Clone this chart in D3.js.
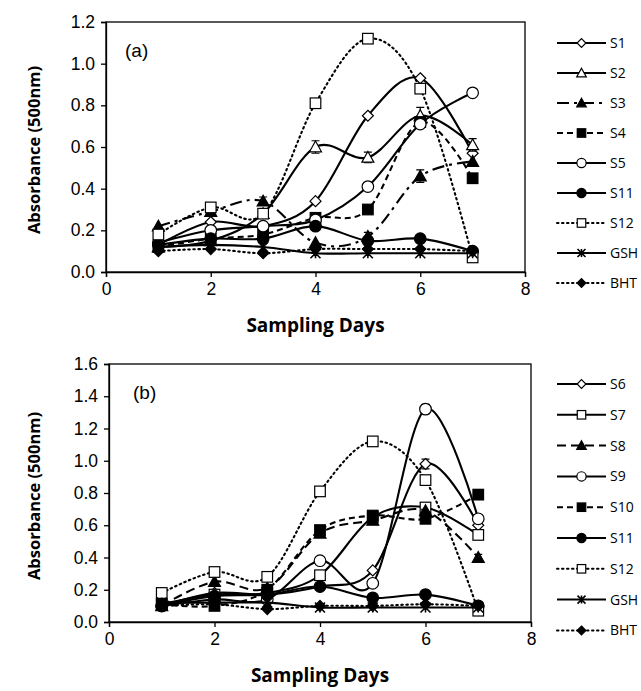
<!DOCTYPE html>
<html>
<head>
<meta charset="utf-8">
<script src="https://cdn.jsdelivr.net/npm/d3@7"></script>
<style>
  body { margin: 0; background: #fff; }
  svg { display: block; }
</style>
</head>
<body>
<svg id="chart" width="641" height="691"></svg>
<script>

// sampling days and tick labels
var days = [1, 2, 3, 4, 5, 6, 7];
var xTicks = [0, 2, 4, 6, 8];
var yTicksA = [0, 0.2, 0.4, 0.6, 0.8, 1.0, 1.2];
var yTicksB = [0, 0.2, 0.4, 0.6, 0.8, 1.0, 1.2, 1.4, 1.6];

// panel (a) series
var namesA = ['S1', 'S2', 'S3', 'S4', 'S5', 'S11', 'S12', 'GSH', 'BHT'];
var s1  = [0.13, 0.24, 0.22, 0.34, 0.75, 0.93, 0.57];
var s2  = [0.12, 0.15, 0.28, 0.60, 0.55, 0.75, 0.61];
var s3  = [0.22, 0.29, 0.34, 0.14, 0.17, 0.46, 0.53];
var s4  = [0.12, 0.16, 0.18, 0.26, 0.30, 0.72, 0.45];
var s5  = [0.14, 0.20, 0.22, 0.25, 0.41, 0.71, 0.86];
var s11 = [0.13, 0.16, 0.16, 0.22, 0.15, 0.16, 0.10];
var s12 = [0.18, 0.31, 0.28, 0.81, 1.12, 0.88, 0.07];
var gsh = [0.12, 0.13, 0.12, 0.09, 0.09, 0.09, 0.09];
var bht = [0.10, 0.11, 0.09, 0.11, 0.11, 0.11, 0.10];

// panel (b) series
var namesB = ['S6', 'S7', 'S8', 'S9', 'S10', 'S11', 'S12', 'GSH', 'BHT'];
var s6  = [0.10, 0.18, 0.17, 0.22, 0.32, 0.98, 0.60];
var s7  = [0.11, 0.17, 0.18, 0.29, 0.65, 0.71, 0.54];
var s8  = [0.10, 0.25, 0.21, 0.55, 0.63, 0.69, 0.40];
var s9  = [0.10, 0.14, 0.14, 0.38, 0.24, 1.32, 0.64];
var s10 = [0.11, 0.10, 0.20, 0.57, 0.66, 0.64, 0.79];
var s11b = [0.10, 0.16, 0.17, 0.22, 0.15, 0.17, 0.10];
var s12b = [0.18, 0.31, 0.28, 0.81, 1.12, 0.88, 0.07];
var gshB = [0.12, 0.12, 0.12, 0.09, 0.09, 0.09, 0.09];
var bhtB = [0.10, 0.11, 0.08, 0.10, 0.10, 0.11, 0.10];

// error bars (only where visible)
var errS2 = [0, 0, 0, 0.03, 0.025, 0.04, 0.03];
var errS3 = [0, 0, 0.02, 0, 0.02, 0.03, 0];
var errS9 = [0, 0, 0, 0, 0, 0.03, 0];
var errS6 = [0, 0, 0, 0, 0, 0.03, 0];
var errS10 = [0, 0, 0, 0, 0, 0, 0.03];
var errS8 = [0, 0, 0, 0, 0, 0, 0.02];

var svg = d3.select('#chart');

// marker / dash style per series
var DOT = '1.5,3.5', DASH = '6,4', DASHDOT = '12,5,3,5';
var stylesA = [
  {m: 'diamond', fill: '#fff', dash: null},
  {m: 'triangle', fill: '#fff', dash: null},
  {m: 'triangle', fill: '#000', dash: DASHDOT},
  {m: 'square', fill: '#000', dash: DASH},
  {m: 'circle', fill: '#fff', dash: null},
  {m: 'circle', fill: '#000', dash: null},
  {m: 'square', fill: '#fff', dash: DOT},
  {m: 'star', fill: '#000', dash: null},
  {m: 'diamond', fill: '#000', dash: DOT}
];
var stylesB = [
  {m: 'diamond', fill: '#fff', dash: null},
  {m: 'square', fill: '#fff', dash: null},
  {m: 'triangle', fill: '#000', dash: '9,5'},
  {m: 'circle', fill: '#fff', dash: null},
  {m: 'square', fill: '#000', dash: DASH},
  {m: 'circle', fill: '#000', dash: null},
  {m: 'square', fill: '#fff', dash: DOT},
  {m: 'star', fill: '#000', dash: null},
  {m: 'diamond', fill: '#000', dash: DOT}
];

function drawMarker(g, type, fill, x, y, s) {
  s = s || 1;
  if (type == 'diamond') {
    var r = 5.5 * s;
    g.append('path').attr('d', 'M' + x + ',' + (y - r) + 'L' + (x + r) + ',' + y + 'L' + x + ',' + (y + r) + 'L' + (x - r) + ',' + y + 'Z')
      .attr('fill', fill).attr('stroke', '#000').attr('stroke-width', 1.2);
  } else if (type == 'square') {
    var h = 5.3 * s;
    g.append('rect').attr('x', x - h).attr('y', y - h).attr('width', 2 * h).attr('height', 2 * h)
      .attr('fill', fill).attr('stroke', '#000').attr('stroke-width', 1.2);
  } else if (type == 'triangle') {
    var t = 6 * s;
    g.append('path').attr('d', 'M' + x + ',' + (y - t) + 'L' + (x + t) + ',' + (y + t * 0.8) + 'L' + (x - t) + ',' + (y + t * 0.8) + 'Z')
      .attr('fill', fill).attr('stroke', '#000').attr('stroke-width', 1.2);
  } else if (type == 'circle') {
    g.append('circle').attr('cx', x).attr('cy', y).attr('r', 5.8 * s)
      .attr('fill', fill).attr('stroke', '#000').attr('stroke-width', 1.2);
  } else if (type == 'star') {
    var k = 5 * s;
    g.append('path').attr('d', 'M' + (x - k) + ',' + (y - k) + 'L' + (x + k) + ',' + (y + k) +
        'M' + (x + k) + ',' + (y - k) + 'L' + (x - k) + ',' + (y + k) +
        'M' + x + ',' + (y - k) + 'L' + x + ',' + (y + k))
      .attr('stroke', '#000').attr('stroke-width', 1.6).attr('fill', 'none');
  }
}

function drawPanel(p) {
  var x = d3.scaleLinear().domain([0, 8]).range([p.left, p.right]);
  var y = d3.scaleLinear().domain([0, p.ymax]).range([p.bottom, p.top]);
  var g = svg.append('g');

  // plot frame
  g.append('rect').attr('x', p.left).attr('y', p.top)
    .attr('width', p.right - p.left).attr('height', p.bottom - p.top)
    .attr('fill', 'none').attr('stroke', '#000').attr('stroke-width', 1.3);

  // axes
  var xAxis = g.append('g').attr('transform', 'translate(0,' + p.bottom + ')')
    .call(d3.axisBottom(x).tickValues(xTicks).tickFormat(d3.format('d')).tickSize(5).tickPadding(6));
  var yAxis = g.append('g').attr('transform', 'translate(' + p.left + ',0)')
    .call(d3.axisLeft(y).tickValues(p.yTicks).tickFormat(d3.format('.1f')).tickSize(5).tickPadding(6));
  [xAxis, yAxis].forEach(function(a) {
    a.select('.domain').attr('stroke-width', 1.3);
    a.selectAll('.tick line').attr('stroke-width', 1.3);
    a.selectAll('text').attr('font-family', '"Liberation Sans", Arial, sans-serif')
      .attr('font-size', 17.5).attr('fill', '#000');
  });

  // titles
  g.append('text').attr('x', (p.left + p.right) / 2).attr('y', p.bottom + 60)
    .attr('text-anchor', 'middle').attr('font-family', '"Open Sans", sans-serif')
    .attr('font-weight', 'bold').attr('font-size', 19).text('Sampling Days');
  g.append('text')
    .attr('transform', 'translate(40,' + ((p.top + p.bottom) / 2 + 3) + ') rotate(-90)')
    .attr('text-anchor', 'middle').attr('font-family', '"Open Sans", sans-serif')
    .attr('font-weight', 'bold').attr('font-size', 16.5).text('Absorbance (500nm)');
  g.append('text').attr('x', p.left + p.labelDx).attr('y', p.top + 35)
    .attr('font-family', '"Liberation Sans", Arial, sans-serif').attr('font-size', 19)
    .text(p.label);

  var line = d3.line()
    .x(function(d, i) { return x(days[i]); })
    .y(function(d) { return y(d); })
    .curve(d3.curveCatmullRom.alpha(0));

  p.series.forEach(function(vals, si) {
    var st = p.styles[si];
    var sg = g.append('g');
    sg.append('path').datum(vals).attr('d', line)
      .attr('fill', 'none').attr('stroke', '#000').attr('stroke-width', 2.1)
      .attr('stroke-dasharray', st.dash).attr('stroke-linecap', st.dash == DOT ? 'round' : 'butt');
    var err = p.errors[si];
    vals.forEach(function(v, i) {
      if (err && err[i] > 0) {
        var cx = x(days[i]);
        sg.append('path')
          .attr('d', 'M' + cx + ',' + y(v - err[i]) + 'V' + y(v + err[i]) +
            'M' + (cx - 4) + ',' + y(v + err[i]) + 'H' + (cx + 4) +
            'M' + (cx - 4) + ',' + y(v - err[i]) + 'H' + (cx + 4))
          .attr('stroke', '#000').attr('stroke-width', 1.2).attr('fill', 'none');
      }
      drawMarker(sg, st.m, st.fill, x(days[i]), y(v));
    });
  });

  // legend
  var lg = g.append('g');
  p.names.forEach(function(n, i) {
    var st = p.styles[i];
    var ly = p.legendTop + i * p.legendStep;
    lg.append('line').attr('x1', 557).attr('x2', 606).attr('y1', ly).attr('y2', ly)
      .attr('stroke', '#000').attr('stroke-width', 2)
      .attr('stroke-dasharray', st.dash).attr('stroke-linecap', st.dash == DOT ? 'round' : 'butt');
    drawMarker(lg, st.m, st.fill, 581.5, ly, 0.8);
    lg.append('text').attr('x', 610).attr('y', ly + 5)
      .attr('font-family', '"Open Sans", sans-serif').attr('font-size', 14).text(n);
  });
}

drawPanel({
  left: 106, right: 525, top: 22, bottom: 272, ymax: 1.2, yTicks: yTicksA,
  label: '(a)', labelDx: 19,
  names: namesA, styles: stylesA,
  series: [s1, s2, s3, s4, s5, s11, s12, gsh, bht],
  errors: [null, errS2, errS3, null, null, null, null, null, null],
  legendTop: 43, legendStep: 30
});

drawPanel({
  left: 109, right: 531, top: 364, bottom: 622, ymax: 1.6, yTicks: yTicksB,
  label: '(b)', labelDx: 24,
  names: namesB, styles: stylesB,
  series: [s6, s7, s8, s9, s10, s11b, s12b, gshB, bhtB],
  errors: [errS6, null, errS8, errS9, errS10, null, null, null, null],
  legendTop: 384, legendStep: 30.8
});

</script>
</body>
</html>
